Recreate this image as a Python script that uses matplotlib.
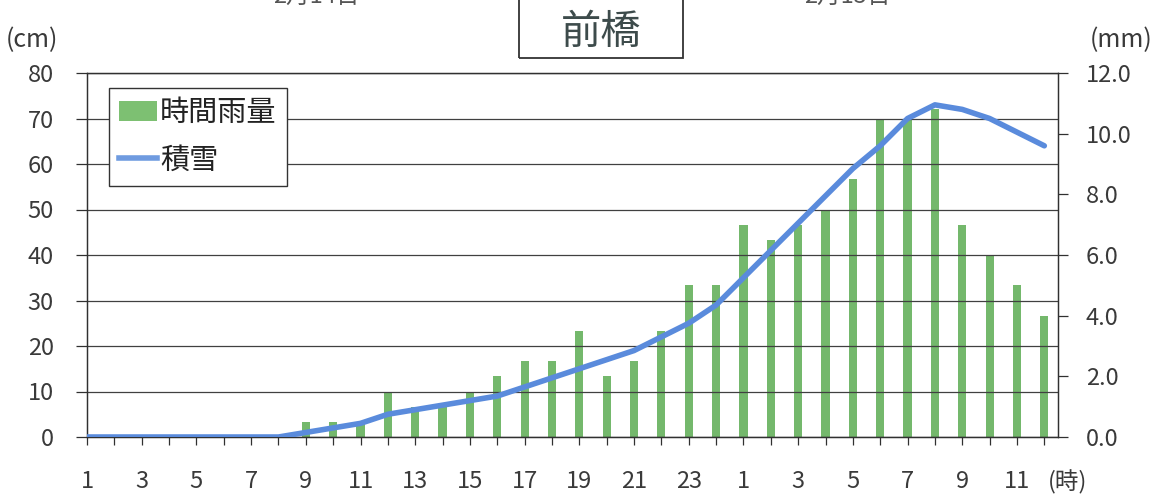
import matplotlib
matplotlib.use('Agg')
import matplotlib.pyplot as plt
from matplotlib.patches import Rectangle, Patch
from matplotlib.lines import Line2D

plt.rcParams['font.family'] = ['Noto Sans CJK JP', 'DejaVu Sans']

# --- データ (2/14 1時 ～ 2/15 12時) ---
hours = list(range(1, 25)) + list(range(1, 13))
rain_mm = [0, 0, 0, 0, 0, 0, 0, 0,
           0.5, 0.5, 0.5, 1.5, 1.0, 1.0, 1.5, 2.0, 2.5, 2.5, 3.5, 2.0, 2.5, 3.5, 5.0, 5.0,
           7.0, 6.5, 7.0, 7.5, 8.5, 10.5, 10.5, 10.8, 7.0, 6.0, 5.0, 4.0]
snow_cm = [0, 0, 0, 0, 0, 0, 0, 0,
           1, 2, 3, 5, 6, 7, 8, 9, 11, 13, 15, 17, 19, 22, 25, 29,
           35, 41, 47, 53, 59, 64, 70, 73, 72, 70, 67, 64]
xlabels = [str(h) if i % 2 == 0 else '' for i, h in enumerate(hours)]
left_ticks = list(range(0, 81, 10))
right_ticks = [0, 2, 4, 6, 8, 10, 12]

bar_color = '#74b86c'
line_color = '#5a8bdc'
txt = '#3a3a3a'

W, H = 1159, 497
fig = plt.figure(figsize=(W / 100, H / 100), dpi=100)
ax = fig.add_axes([87 / W, 60 / H, (1058 - 87) / W, (437 - 73) / H])
ax2 = ax.twinx()

x = list(range(len(hours)))

# 時間雨量 (右軸 mm)
ax2.bar(x, rain_mm, width=0.3, color=bar_color, edgecolor='none')
ax2.set_ylim(0, 12)
ax2.set_yticks(right_ticks)
ax2.set_yticklabels([f'{v:.1f}' for v in right_ticks])

# 積雪 (左軸 cm)
ax.plot(x, snow_cm, color=line_color, lw=4, solid_capstyle='round', zorder=5)
ax.set_ylim(0, 80)
ax.set_yticks(left_ticks)
ax.set_xlim(0, 35.5)
ax.set_xticks(x)
ax.set_xticklabels(xlabels)
ax.grid(axis='y', color='#404040', lw=0.9)
ax.set_axisbelow(True)

# 折れ線を棒の上に
ax.set_zorder(ax2.get_zorder() + 1)
ax.patch.set_visible(False)

for a in (ax, ax2):
    for s in a.spines.values():
        s.set_color('#303030')
        s.set_linewidth(0.9)
ax.tick_params(axis='y', direction='out', length=8, width=0.9, color='#303030',
               pad=16, labelsize=17, labelcolor=txt)
ax.tick_params(axis='x', direction='out', length=6, width=0.9, color='#303030',
               pad=18, labelsize=17, labelcolor=txt)
ax2.tick_params(axis='y', direction='out', length=7, width=0.9, color='#303030',
                pad=13, labelsize=17, labelcolor=txt)

# 凡例
handles = [Patch(facecolor='#7dc072', edgecolor='none'),
           Line2D([0], [0], color='#6f9be0', lw=4)]
leg = ax.legend(handles, ['時間雨量', '積雪'], loc='upper left',
                bbox_to_anchor=(109 / W, 1 - 88 / H), bbox_transform=fig.transFigure,
                borderaxespad=0, fontsize=21, handlelength=1.3, handletextpad=0.1,
                labelspacing=0.6, borderpad=0.35, fancybox=False, framealpha=1)
leg.get_frame().set_edgecolor('#333333')
leg.get_frame().set_linewidth(1.0)
for t in leg.get_texts():
    t.set_color('#222222')

# 単位・タイトル
fig.text(6 / W, 1 - 40 / H, '(cm)', ha='left', va='center', fontsize=18, color=txt)
fig.text(1153 / W, 1 - 40 / H, '(mm)', ha='right', va='center', fontsize=18, color=txt)
fig.text(1068 / W, 15 / H, '(時)', ha='center', va='center', fontsize=17, color=txt)

fig.add_artist(Rectangle((519 / W, 1 - 58 / H), 164 / W, 70 / H, transform=fig.transFigure,
                         fill=False, ec='#333333', lw=1.3))
fig.text(601 / W, 1 - 32 / H, '前橋', ha='center', va='center', fontsize=29, color='#3d4b4b')

# 上端で切れている日付
fig.text(316 / W, 1 - 8 / H, '2月14日', ha='center', va='bottom', fontsize=17, color='#555555')
fig.text(847 / W, 1 - 8 / H, '2月15日', ha='center', va='bottom', fontsize=17, color='#555555')

fig.savefig('out.png', dpi=100, facecolor='white')
